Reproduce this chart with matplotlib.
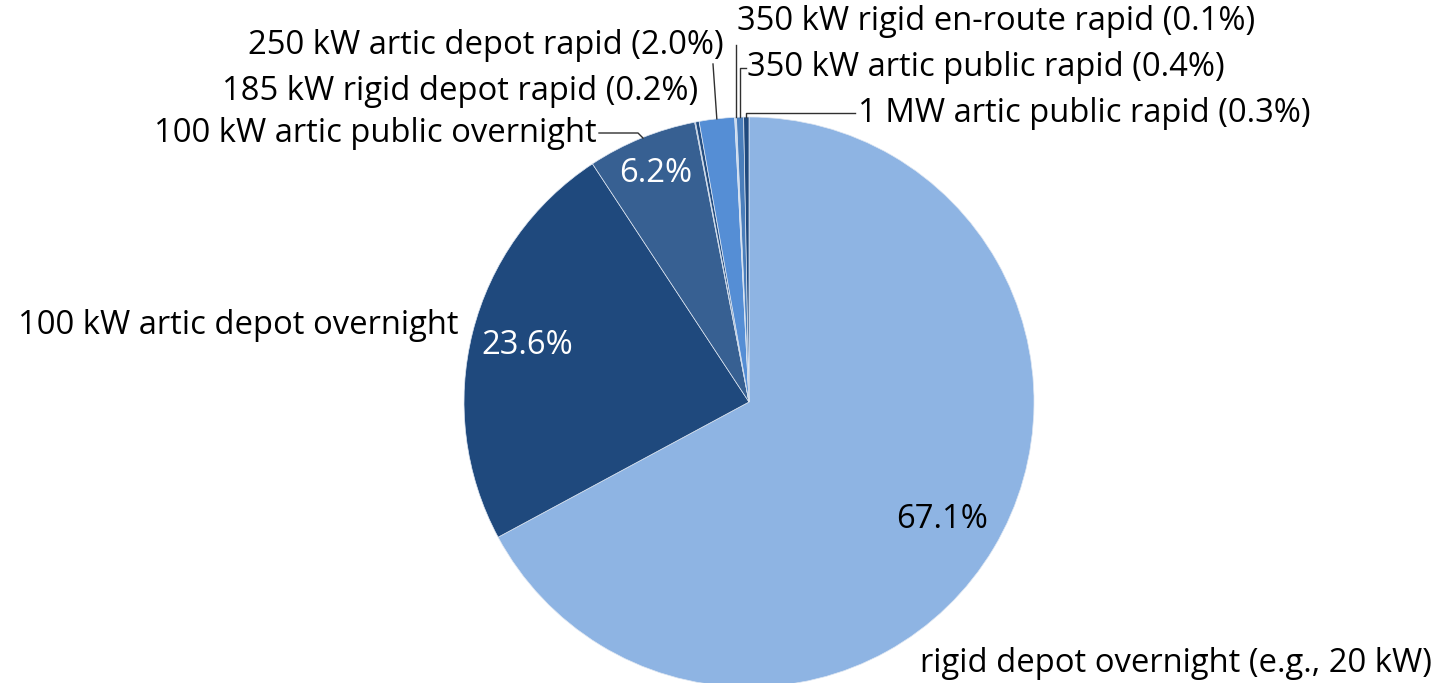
import matplotlib.pyplot as plt
import numpy as np

# slice data, clockwise from 12 o'clock
labels = ["rigid depot overnight (e.g., 20 kW)",
          "100 kW artic depot overnight",
          "6.2%",
          "100 kW artic public overnight",
          "185 kW rigid depot rapid (0.2%)",
          "250 kW artic depot rapid (2.0%)",
          "350 kW rigid en-route rapid (0.1%)",
          "350 kW artic public rapid (0.4%)",
          "1 MW artic public rapid (0.3%)"]
shares = [67.1, 23.6, 6.2, 0.05, 0.2, 2.0, 0.1, 0.4, 0.3]
colors = ["#8EB4E3", "#1F497D", "#376092", "#2A5587", "#254E81",
          "#558ED5", "#C6D9F1", "#4A7EBB", "#1F497D"]

W, H = 1435, 683
fig = plt.figure(figsize=(W / 100, H / 100), dpi=100)
ax = fig.add_axes([0, 0, 1, 1])
ax.axis("off")

cx, cy, r = 749, H - 402, 285
ax.pie(shares, colors=colors, startangle=90, counterclock=False,
       center=(cx, cy), radius=r,
       wedgeprops=dict(edgecolor="#DDE6F2", linewidth=0.5))
ax.set_xlim(0, W)
ax.set_ylim(0, H)
ax.set_aspect("auto")

plt.rcParams["font.family"] = ["Open Sans", "DejaVu Sans"]
fs = 23.6

# mid angle of each slice (degrees)
frac = np.array(shares) / sum(shares)
cum = np.cumsum(frac) - frac / 2
mid = 90 - cum * 360


def edge(i):
    a = np.radians(mid[i])
    return cx + r * np.cos(a), cy + r * np.sin(a)


def P(y):
    return H - y


lc = "#303030"

# inside percentage labels
ax.text(527, P(346), "23.6%", color="white", fontsize=fs, ha="center", va="center")
ax.text(656, P(173), "6.2%", color="white", fontsize=fs, ha="center", va="center")
ax.text(942, P(520), "67.1%", color="black", fontsize=fs, ha="center", va="center")

# outside labels
ax.text(18, P(325), labels[1], fontsize=fs, ha="left", va="center")
ax.text(1432, P(663), labels[0], fontsize=fs, ha="right", va="center")
ax.text(597, P(134), labels[3], fontsize=fs, ha="right", va="center")
ax.text(698, P(92), labels[4], fontsize=fs, ha="right", va="center")
ax.text(724, P(46), labels[5], fontsize=fs, ha="right", va="center")
ax.text(737, P(22), labels[6], fontsize=fs, ha="left", va="center")
ax.text(747, P(68), labels[7], fontsize=fs, ha="left", va="center")
ax.text(858, P(113), labels[8], fontsize=fs, ha="left", va="center")

# leader lines
ax.plot([599, 638, 643], [P(133), P(133), P(138)], color=lc, lw=1)
x, y = edge(5)
ax.plot([713, x], [P(64), y], color=lc, lw=1)
x, y = edge(6)
ax.plot([x, x], [y, P(45)], color=lc, lw=1)
x, y = edge(7)
ax.plot([x, x, 746], [y, P(68), P(68)], color=lc, lw=1)
x, y = edge(8)
ax.plot([x, x, 855], [y, P(113), P(113)], color=lc, lw=1)

fig.savefig("out.png", dpi=100)
